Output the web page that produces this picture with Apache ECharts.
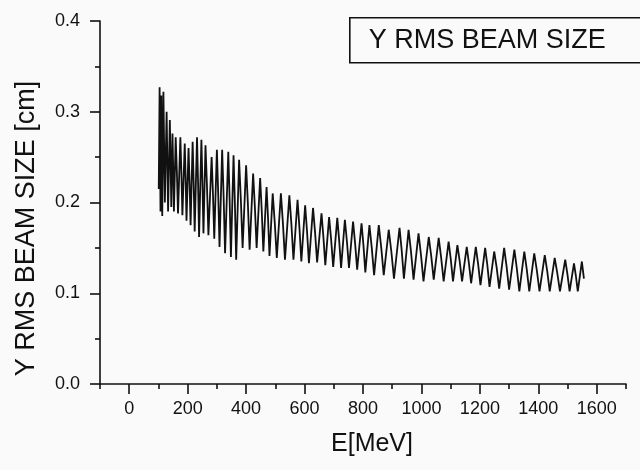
<!DOCTYPE html>
<html>
<head>
<meta charset="utf-8">
<script src="https://cdn.jsdelivr.net/npm/echarts@6/dist/echarts.min.js"></script>
<style>
html,body{margin:0;padding:0;background:#fafafa;}
#chart{width:640px;height:470px;}
</style>
</head>
<body>
<div id="chart"></div>
<script>
// Energy [MeV] of each read-off point of the trace
var energy = [
101,
104,107, 110,113, 117,122, 128,133,
139,141.5,144, 148,150.5,153, 159,163,167, 175,178.5,182,
190,193,196, 203,206.5,210, 217,220.5,224, 232,235.5,239,
247,250.5,254, 261,266,271, 282,286.5,291, 300,304.5,309,
318,323,328, 339,343.5,348, 357,361.5,366, 376,382,388,
400,406,412, 424,430,436, 448,453.5,459, 470,475,480,
491,498,505, 519,526,533, 548,555,562, 576,582.5,589,
602,608.5,615, 629,636,643, 658,664.5,671, 684,691,698,
712,718.5,725, 738,745,752, 766,773,780, 795,801.5,808,
822,830,838, 854,862.5,871, 888,897,906, 925,932.5,940,
956,964.5,973, 990,998.5,1007, 1025,1033.5,1042, 1059,1067.5,1076,
1093,1100.5,1108, 1123,1131,1139, 1155,1162.5,1170, 1186,1194,1202,
1218,1225.5,1233, 1249,1257.5,1266, 1283,1291.5,1300, 1318,1326.5,1335,
1352,1360.5,1369, 1386,1395,1404, 1422,1430.5,1439, 1456,1465,1474,
1492,1499.5,1507, 1522,1528.5,1535, 1549,1556
];
// Y RMS beam size [cm] at each of those points
var beamSize = [
0.215,
0.327,0.190, 0.318,0.185, 0.322,0.200, 0.300,0.190,
0.291,0.248,0.195, 0.276,0.237,0.190, 0.272,0.234,0.188, 0.272,0.233,0.186,
0.265,0.227,0.180, 0.260,0.222,0.175, 0.267,0.222,0.168, 0.272,0.223,0.162,
0.269,0.223,0.166, 0.263,0.219,0.164, 0.250,0.210,0.160, 0.258,0.210,0.151,
0.258,0.207,0.144, 0.256,0.204,0.140, 0.252,0.200,0.137, 0.247,0.203,0.150,
0.241,0.199,0.148, 0.232,0.195,0.150, 0.227,0.191,0.146, 0.217,0.183,0.141,
0.210,0.178,0.139, 0.210,0.177,0.137, 0.208,0.176,0.137, 0.203,0.172,0.135,
0.197,0.168,0.133, 0.194,0.167,0.134, 0.188,0.162,0.131, 0.184,0.159,0.129,
0.183,0.158,0.128, 0.181,0.157,0.128, 0.179,0.155,0.126, 0.177,0.153,0.123,
0.175,0.150,0.120, 0.175,0.150,0.120, 0.170,0.146,0.116, 0.172,0.147,0.116,
0.170,0.145,0.115, 0.166,0.142,0.113, 0.162,0.141,0.115, 0.161,0.139,0.113,
0.157,0.137,0.113, 0.153,0.135,0.113, 0.151,0.133,0.111, 0.151,0.132,0.109,
0.150,0.131,0.107, 0.146,0.128,0.105, 0.150,0.129,0.104, 0.148,0.127,0.102,
0.146,0.126,0.102, 0.144,0.125,0.102, 0.142,0.124,0.102, 0.139,0.122,0.102,
0.137,0.121,0.102, 0.133,0.119,0.102, 0.135,0.116
];
var xMajorTicks = [0,200,400,600,800,1000,1200,1400,1600];
var xMinorTicks = [-100,100,300,500,700,900,1100,1300,1500,1700];
var seriesName = 'Y RMS BEAM SIZE';
var xTitle = 'E[MeV]';
var yTitle = 'Y RMS BEAM SIZE [cm]';

var points = energy.map(function(e, i){ return [e, beamSize[i]]; });
var FONT = '"Liberation Sans", Arial, sans-serif';
var INK = '#111111';

var chart = echarts.init(document.getElementById('chart'), null, {renderer:'canvas'});
chart.setOption({
  animation: false,
  backgroundColor: '#fafafa',
  grid: {left: 100, right: 14, top: 21, bottom: 86, containLabel: false},
  xAxis: [{
    type: 'value', min: -100, max: 1700,
    axisLine: {show: true, onZero: false, lineStyle: {color: INK, width: 1.6}},
    axisTick: {show: true, customValues: xMajorTicks, length: 10, inside: false, lineStyle: {color: INK, width: 1.6}},
    axisLabel: {show: true, customValues: xMajorTicks, fontSize: 18, fontFamily: FONT, color: INK, margin: 16,
      formatter: function(v){ return String(v); }},
    splitLine: {show: false},
    name: xTitle, nameLocation: 'middle', nameGap: 48,
    nameTextStyle: {fontSize: 25, fontFamily: FONT, color: INK, padding: [0, 0, 0, 18]}
  }, {
    type: 'value', min: -100, max: 1700, position: 'bottom',
    axisLine: {show: false},
    axisTick: {show: true, customValues: xMinorTicks, length: 5, inside: false, lineStyle: {color: INK, width: 1.6}},
    axisLabel: {show: false},
    splitLine: {show: false}
  }],
  yAxis: {
    type: 'value', min: 0, max: 0.4, interval: 0.1,
    axisLine: {show: true, onZero: false, lineStyle: {color: INK, width: 1.6}},
    axisTick: {show: true, length: 10, lineStyle: {color: INK, width: 1.6}},
    minorTick: {show: true, splitNumber: 2, length: 5, lineStyle: {color: INK, width: 1.6}},
    axisLabel: {fontSize: 18, fontFamily: FONT, color: INK, margin: 20,
      formatter: function(v){ return v.toFixed(1); }},
    splitLine: {show: false},
    minorSplitLine: {show: false},
    name: yTitle, nameLocation: 'middle', nameRotate: 90, nameGap: 60,
    nameTextStyle: {fontSize: 27, fontFamily: FONT, color: INK, padding: [0, 52, 0, 0]}
  },
  graphic: [{
    type: 'group', left: 349, top: 17,
    children: [{
      type: 'rect', shape: {x: 0, y: 0, width: 330, height: 45},
      style: {fill: '#fafafa', stroke: INK, lineWidth: 1.6}
    }, {
      type: 'text', x: 19, y: 22.5,
      style: {text: seriesName, fontSize: 27, fontFamily: FONT, fill: INK, textVerticalAlign: 'middle', verticalAlign: 'middle'}
    }]
  }],
  series: [{
    name: seriesName, type: 'line', data: points,
    showSymbol: false, symbol: 'none',
    lineStyle: {color: '#111111', width: 1.8},
    clip: true
  }]
});
</script>
</body>
</html>
